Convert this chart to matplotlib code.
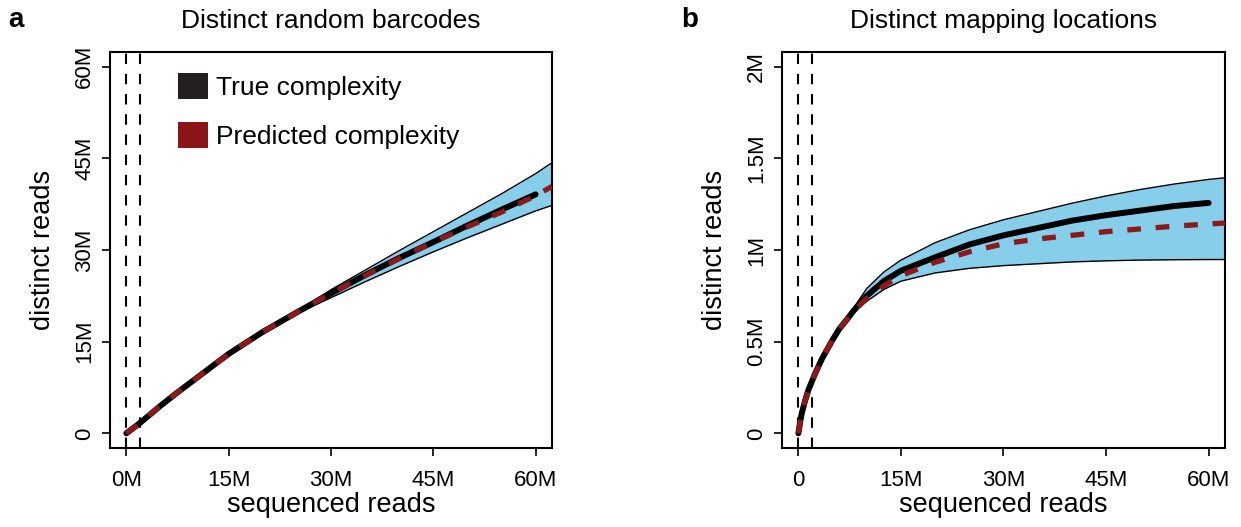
import numpy as np
import matplotlib.pyplot as plt
from matplotlib.patches import Patch

plt.rcParams['font.family'] = ['Liberation Sans', 'DejaVu Sans']

# ---- panel a: distinct random barcodes (values in millions) ----
a_true_x = [0, 1, 2, 5, 7.5, 10, 15, 20, 25, 30, 35, 40, 45, 50, 55, 60]
a_true_y = [0, 0.85, 1.7, 4.5, 6.7, 8.8, 13.0, 16.6, 19.8, 22.9, 25.9, 28.7, 31.3, 34.0, 36.6, 39.1]
a_pred_x = [0, 1, 2, 5, 7.5, 10, 15, 20, 25, 30, 35, 40, 45, 50, 55, 60, 62.4]
a_pred_y = [0, 0.85, 1.7, 4.5, 6.7, 8.8, 13.0, 16.6, 19.8, 22.9, 25.8, 28.6, 31.3, 33.8, 36.2, 38.9, 40.4]
a_band_x = [0, 10, 20, 25, 30, 35, 40, 45, 50, 55, 60, 62.4]
a_band_lo = [0, 8.8, 16.5, 19.6, 22.2, 24.8, 27.3, 29.7, 32.0, 34.2, 36.4, 37.3]
a_band_hi = [0, 8.8, 16.7, 20.0, 23.5, 26.7, 29.9, 33.0, 36.1, 39.2, 42.5, 44.3]

# ---- panel b: distinct mapping locations (values in millions) ----
b_true_x = [0, 0.3, 0.5, 1, 1.5, 2.5, 3.5, 5, 6, 7.5, 8, 9, 10, 12.5, 15, 20, 25, 30, 35, 40, 45, 50, 55, 60]
b_true_y = [0, 0.07, 0.11, 0.18, 0.24, 0.33, 0.41, 0.51, 0.57, 0.64, 0.665, 0.71, 0.75, 0.83, 0.887, 0.96, 1.03,
            1.08, 1.12, 1.16, 1.19, 1.215, 1.24, 1.257]
b_pred_x = [0, 0.3, 0.5, 1, 1.5, 2.5, 3.5, 5, 6, 7.5, 8, 9, 10, 12.5, 15, 20, 25, 30, 35, 40, 45, 50, 55, 60, 62.4]
b_pred_y = [0, 0.07, 0.11, 0.18, 0.24, 0.33, 0.41, 0.51, 0.57, 0.64, 0.66, 0.70, 0.735, 0.805, 0.86, 0.933, 0.99,
            1.034, 1.06, 1.08, 1.10, 1.115, 1.13, 1.142, 1.147]
b_band_x = [7, 8, 9, 10, 12.5, 15, 20, 25, 30, 35, 40, 45, 50, 55, 60, 62.4]
b_band_lo = [0.615, 0.655, 0.69, 0.72, 0.785, 0.83, 0.875, 0.90, 0.915, 0.925, 0.935, 0.941, 0.945, 0.947,
             0.948, 0.948]
b_band_hi = [0.615, 0.675, 0.735, 0.79, 0.88, 0.945, 1.04, 1.11, 1.165, 1.21, 1.255, 1.295, 1.33, 1.36,
             1.385, 1.394]

vlines = [0, 2]

BLUE = '#87CEEB'
DARKRED = '#8B1A1A'

fig = plt.figure(figsize=(12.41, 5.27), dpi=100)
ax_a = fig.add_axes([0.0886, 0.1499, 0.3562, 0.7514])
ax_b = fig.add_axes([0.6301, 0.1499, 0.357, 0.7514])


def draw(ax, bx, blo, bhi, tx, ty, px, py):
    ax.fill_between(bx, blo, bhi, color=BLUE, lw=0, zorder=1)
    ax.plot(bx, blo, color='black', lw=1.0, zorder=2)
    ax.plot(bx, bhi, color='black', lw=1.0, zorder=2)
    for v in vlines:
        ax.axvline(v, color='black', lw=1.5, ls=(0, (5, 4.7)), zorder=2)
    ax.plot(tx, ty, color='black', lw=4.3, solid_capstyle='round', zorder=3)
    ax.plot(px, py, color=DARKRED, lw=3.8, ls=(0, (2.6, 2.8)), zorder=4)


draw(ax_a, a_band_x, a_band_lo, a_band_hi, a_true_x, a_true_y, a_pred_x, a_pred_y)
draw(ax_b, b_band_x, b_band_lo, b_band_hi, b_true_x, b_true_y, b_pred_x, b_pred_y)

ax_a.set_xlim(-2.4, 62.4)
ax_a.set_ylim(-2.4, 62.4)
ax_b.set_xlim(-2.4, 62.4)
ax_b.set_ylim(-0.08, 2.08)

xt = [0, 15, 30, 45, 60]
ax_a.set_xticks(xt, ['0M', '15M', '30M', '45M', '60M'])
ax_b.set_xticks(xt, ['0', '15M', '30M', '45M', '60M'])
ax_a.set_yticks([0, 15, 30, 45, 60], ['0', '15M', '30M', '45M', '60M'])
ax_b.set_yticks([0, 0.5, 1, 1.5, 2], ['0', '0.5M', '1M', '1.5M', '2M'])

for ax in (ax_a, ax_b):
    for s in ax.spines.values():
        s.set_linewidth(1.5)
    ax.tick_params(axis='both', direction='out', length=5.5, width=1.2, labelsize=16)
    ax.tick_params(axis='x', pad=10)
    ax.tick_params(axis='y', pad=5)
    for lab in ax.get_yticklabels():
        lab.set_rotation(90)
        lab.set_va('center')
    ax.set_xlabel('sequenced reads', fontsize=19.5, labelpad=1)
    ax.set_ylabel('distinct reads', fontsize=19.5, labelpad=13)

ax_a.set_title('Distinct random barcodes', fontsize=19, pad=17)
ax_b.set_title('Distinct mapping locations', fontsize=19, pad=17)
fig.text(0.007, 0.962, 'a', fontsize=20, fontweight='bold', va='center')
fig.text(0.549, 0.962, 'b', fontsize=20, fontweight='bold', va='center')

handles = [Patch(facecolor='#231F20', edgecolor='none', label='True complexity'),
           Patch(facecolor='#8B1419', edgecolor='none', label='Predicted complexity')]
ax_a.legend(handles=handles, loc='upper left', bbox_to_anchor=(0.154, 0.948), frameon=False,
            borderpad=0, borderaxespad=0,
            fontsize=19, handlelength=1.14, handleheight=1.14, handletextpad=0.3,
            labelspacing=0.85)

fig.savefig('out.png', dpi=100)
